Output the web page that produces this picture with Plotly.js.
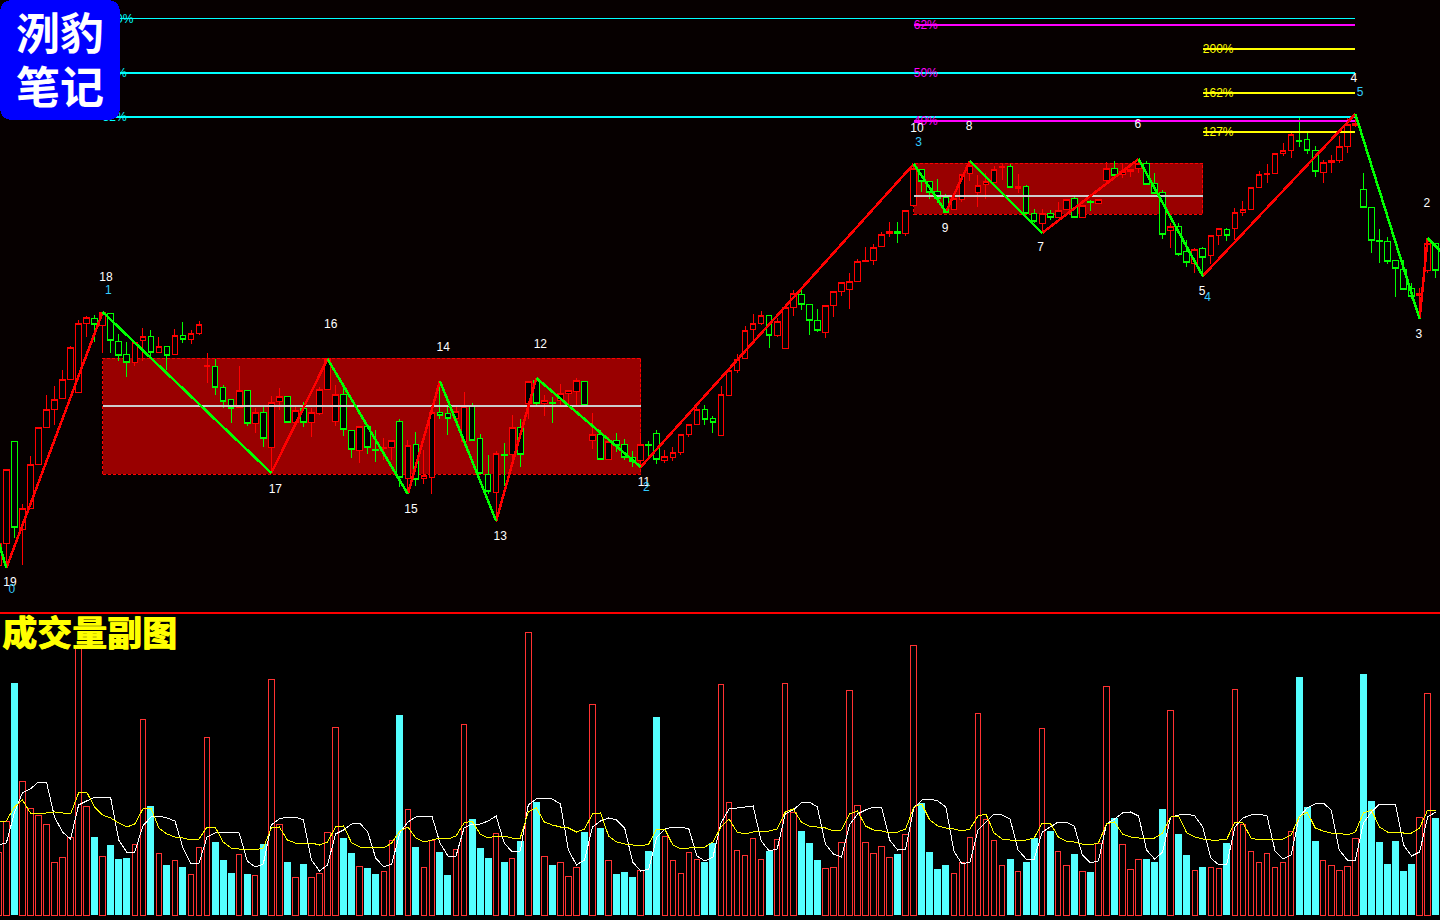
<!DOCTYPE html>
<html><head><meta charset="utf-8">
<script src="https://cdn.plot.ly/plotly-3.0.1.min.js"></script>
<style>
html,body{margin:0;padding:0;background:#000;overflow:hidden}
#chart{width:1440px;height:920px}
svg.main-svg path{shape-rendering:crispEdges !important}
</style></head><body><div id="chart"></div>
<script>
const openP=[47,69,171,83,104,148,185,203,214,233,220,289,294,287,299,271,258,250,272,276,260,266,258,277,273,279,246,246,225,213,205,222,189,200,165,211,216,190,204,190,199,223,191,218,182,162,186,163,164,165,191,134,168,134,135,200,199,194,171,206,174,138,120,158,158,185,209,232,209,210,212,219,221,231,172,178,153,172,168,155,152,168,179,152,155,160,178,188,203,194,177,217,242,254,283,289,297,277,264,305,318,308,292,280,307,321,323,331,351,352,366,379,381,379,407,443,431,421,415,403,413,439,420,428,430,445,446,424,426,399,389,399,395,403,414,395,411,409,432,444,438,441,444,449,429,420,382,386,361,349,364,357,377,383,384,400,403,425,438,439,459,462,472,473,462,440,450,452,466,487,423,405,372,371,352,343,324,317,342,369];
const highP=[69,143,171,108,156,185,217,226,242,266,292,296,297,300,299,278,270,270,284,282,275,266,283,290,282,291,259,253,227,213,246,222,204,205,216,224,216,205,210,204,225,254,227,225,182,186,186,182,174,172,193,172,180,162,200,230,205,205,220,209,178,157,161,169,197,193,231,234,217,215,228,222,234,231,199,182,175,179,173,161,179,171,182,162,165,178,188,207,207,196,226,242,258,286,298,301,297,294,305,322,322,308,303,307,321,330,339,353,365,368,380,390,390,402,447,443,431,433,418,419,438,447,437,439,446,449,448,438,427,403,403,402,410,413,415,407,412,413,450,451,448,443,452,451,439,422,389,389,372,364,365,377,384,384,404,411,425,441,448,459,469,479,494,479,466,452,457,476,494,497,439,405,383,375,352,352,329,324,374,369];
const lowP=[44,45,74,47,104,148,185,187,214,233,220,275,270,259,259,251,235,246,251,254,260,242,258,269,268,277,229,217,204,189,205,186,179,165,139,202,190,185,185,175,197,223,186,176,154,149,158,150,152,152,125,119,126,128,118,193,177,194,171,172,139,118,90,126,152,145,193,207,196,189,205,206,206,207,163,153,153,160,152,145,144,154,148,149,151,157,175,188,187,179,177,217,239,254,270,287,264,275,264,296,302,277,280,274,295,316,303,331,351,347,366,375,369,376,407,420,413,409,400,403,410,431,405,413,430,432,424,419,399,389,380,392,395,403,394,395,401,409,427,437,434,435,439,427,419,373,364,356,345,339,335,348,367,371,372,396,403,425,429,439,456,454,465,458,435,429,439,449,459,485,404,359,349,348,315,322,313,294,339,334];
const closeP=[69,143,85,104,148,185,203,213,233,265,289,295,288,300,272,257,250,270,276,260,266,257,277,273,279,288,247,225,211,204,222,189,200,174,210,216,190,202,190,200,223,254,218,183,163,186,165,162,165,172,135,167,133,137,200,197,194,201,206,172,139,121,159,157,185,158,231,209,212,209,219,222,232,207,178,153,171,167,155,151,168,167,153,156,160,178,188,203,193,190,218,242,253,282,289,297,277,291,305,319,308,292,282,307,321,330,331,351,352,365,378,381,379,402,444,431,420,414,400,414,438,447,427,431,443,446,425,426,399,391,399,395,402,413,395,407,410,413,444,437,441,443,449,428,419,378,386,358,350,363,355,377,384,377,400,403,425,438,439,459,462,478,471,462,441,450,452,466,488,489,405,372,371,351,344,323,316,319,369,342];
const volumes=[63,94,232,134,107,100,91,53,58,78,270,109,78,59,70,56,57,71,196,109,62,50,55,48,41,68,178,73,55,42,61,41,40,71,236,91,53,38,51,38,42,83,188,77,62,49,47,41,44,75,200,106,68,48,75,63,40,66,191,96,67,57,82,53,57,74,283,113,59,50,53,39,48,83,211,87,55,41,43,38,45,64,198,79,55,42,63,56,53,72,231,113,65,60,77,56,64,76,232,103,84,72,55,47,48,73,225,110,73,62,69,58,61,81,270,112,63,46,50,42,53,78,202,96,75,50,56,44,53,77,187,84,64,50,61,44,43,72,229,97,71,46,56,56,53,106,205,81,60,45,48,48,47,72,226,91,64,53,62,48,53,84,238,108,74,55,50,45,49,77,241,114,73,51,74,44,51,98,222,97];
const downVolumeBars=[2,12,14,15,16,19,21,23,27,28,29,31,33,36,38,43,44,46,47,50,52,55,56,59,60,61,63,65,67,69,73,75,77,78,79,81,82,88,89,96,100,101,102,112,115,116,117,118,126,128,129,131,134,136,139,143,144,145,147,148,150,153,162,163,164,170,171,172,173,174,175,176,179];
const maWhite=[70,72,102,122,126,133,133,98,83,76,110,114,118,118,117,75,63,63,89,98,99,97,94,67,51,52,78,82,83,83,82,54,48,51,90,96,98,98,95,55,44,50,81,85,91,92,83,57,48,51,82,93,98,99,99,72,59,59,87,91,91,94,99,72,63,64,110,116,117,116,111,65,50,55,88,94,97,95,87,53,44,46,78,86,88,88,86,59,54,58,92,106,107,108,109,74,64,66,101,105,112,113,108,71,61,58,90,101,105,108,108,75,65,66,107,115,116,114,108,64,51,53,85,93,101,100,96,65,56,56,83,88,93,93,89,60,52,54,91,96,102,103,99,65,56,63,98,100,101,99,88,57,50,51,88,97,100,101,99,64,56,60,98,107,111,112,105,65,55,55,92,103,111,111,111,70,59,63,98,103];
const maYellow=[93,94,108,115,102,101,102,103,102,101,122,123,108,100,97,92,88,91,106,107,87,81,78,77,75,76,88,88,73,67,66,66,65,67,87,88,75,72,72,72,70,73,88,89,72,68,67,68,67,72,84,88,77,73,75,77,76,79,92,94,81,77,79,79,77,77,103,107,93,90,88,87,83,86,101,102,79,73,71,70,69,71,86,86,70,66,67,68,68,73,88,96,83,81,83,84,84,86,103,106,93,89,88,87,84,85,101,104,89,85,84,82,83,86,108,111,95,89,87,86,84,86,99,101,82,76,75,75,75,77,92,92,78,74,73,71,70,72,91,93,81,78,77,77,77,82,98,99,82,78,76,75,75,76,93,92,77,75,76,76,76,80,98,103,87,84,82,82,80,83,102,105,88,83,83,82,82,87,105,105];
const pivotBars=[0,1,13,34,41,51,55,62,67,80,114,118,121,130,142,150,169,177,178,180];
const pivotPrices=[71,44,300,139,253,118,231,91,234,145,448,400,451,379,453,336,498,293,374,358];
const rangeBoxes=[{from:13,to:80,low:138,high:254,mid:206},{from:114,to:150,low:398,high:449,mid:416}];
const cyanLevels=[593.5,539,495], cyanNames=["100%","50%","32%"];
const magentaLevels=[587,539,491], magentaNames=["62%","50%","40%"];
const yellowLevels=[563,519,480], yellowNames=["200%","162%","127%"];
const whiteNames=["19","18","17","16","15","14","13","12","11","10","9","8","7","6","5","4","3","2"];
const whiteBars=[1.46,13.4,34.5,41.4,51.4,55.4,62.5,67.5,80.4,114.4,117.9,120.9,129.8,141.9,149.9,168.8,176.9,177.9];
const whitePrices=[29,334,122,287,102,264,75,267,129,483,383,485,364,487,320,533,277,408];
const cyanNumNames=["0","1","2","3","4","5"];
const cyanNumBars=[1.7,13.7,80.7,114.6,150.6,169.6];
const cyanNumPrices=[22,321,124,469,314,519];
const logoLines=["洌豹","笔记"];
const volumeTitle="成交量副图";

const bars=volumes.map((_,i)=>i);
const isDown=new Set(downVolumeBars);
const hline=(x0,x1,y,color,width)=>({type:'scatter',mode:'lines',x:[x0,x1],y:[y,y],line:{color,width},hoverinfo:'skip',showlegend:false});
const levelText=(x,ys,txt,color)=>({type:'scatter',mode:'text',x:ys.map(()=>x),y:ys.map(v=>v-1),text:txt,textposition:'middle right',textfont:{family:'Liberation Sans',size:12,color},cliponaxis:false,hoverinfo:'skip',showlegend:false});

const zigRed={x:[],y:[]},zigGreen={x:[],y:[]};
for(let k=0;k<pivotBars.length-1;k++){
  const t=pivotPrices[k+1]>pivotPrices[k]?zigRed:zigGreen;
  t.x.push(pivotBars[k],pivotBars[k+1],null);
  t.y.push(pivotPrices[k],pivotPrices[k+1],null);
}

const traces=[
 {type:'candlestick',x:bars,open:openP,high:highP,low:lowP,close:closeP,xaxis:'x',yaxis:'y',
  increasing:{line:{color:'#ff0000',width:1},fillcolor:'#000000'},
  decreasing:{line:{color:'#00ff00',width:1},fillcolor:'#000000'},hoverinfo:'skip',showlegend:false},
 ...rangeBoxes.map(b=>hline(b.from,b.to,b.mid,'#cccccc',2)),
 hline(13,169,cyanLevels[0],'#00ffff',1.4),hline(13,169,cyanLevels[1],'#00ffff',2),hline(13,169,cyanLevels[2],'#00ffff',2),
 hline(114,169,magentaLevels[0],'#ff00ff',2),hline(114,169,magentaLevels[2],'#ff00ff',2),
 ...yellowLevels.map(v=>hline(150,169,v,'#ffff00',2)),
 levelText(13,cyanLevels,cyanNames,'#00ffff'),
 levelText(114,magentaLevels,magentaNames,'#ff00ff'),
 levelText(150,yellowLevels,yellowNames,'#ffff00'),
 {type:'scatter',mode:'lines',x:zigRed.x,y:zigRed.y,line:{color:'#ff0000',width:2.5},hoverinfo:'skip',showlegend:false,connectgaps:false},
 {type:'scatter',mode:'lines',x:zigGreen.x,y:zigGreen.y,line:{color:'#00ff00',width:2.5},hoverinfo:'skip',showlegend:false,connectgaps:false},
 {type:'scatter',mode:'text',x:whiteBars,y:whitePrices,text:whiteNames,textposition:'middle center',textfont:{family:'Liberation Sans',size:12,color:'#ffffff'},cliponaxis:false,hoverinfo:'skip',showlegend:false},
 {type:'scatter',mode:'text',x:cyanNumBars,y:cyanNumPrices,text:cyanNumNames,textposition:'middle center',textfont:{family:'Liberation Sans',size:12,color:'#33ccff'},cliponaxis:false,hoverinfo:'skip',showlegend:false},
 {type:'bar',x:bars.filter(i=>!isDown.has(i)),y:volumes.filter((_,i)=>!isDown.has(i)),xaxis:'x',yaxis:'y2',width:0.68,
  marker:{color:'rgba(0,0,0,0)',line:{color:'#ff3232',width:1}},hoverinfo:'skip',showlegend:false},
 {type:'bar',x:bars.filter(i=>isDown.has(i)),y:volumes.filter((_,i)=>isDown.has(i)),xaxis:'x',yaxis:'y2',width:0.87,
  marker:{color:'#54ffff',line:{width:0}},hoverinfo:'skip',showlegend:false},
 {type:'scatter',mode:'lines',x:bars,y:maWhite,xaxis:'x',yaxis:'y2',line:{color:'#ffffff',width:1},hoverinfo:'skip',showlegend:false},
 {type:'scatter',mode:'lines',x:bars,y:maYellow,xaxis:'x',yaxis:'y2',line:{color:'#ffff00',width:1},hoverinfo:'skip',showlegend:false}
];

const W=1440,H=920,R=13;
const px=x=>x/W, py=y=>1-y/H;
const logoPath=`M${px(R)},${py(0)} L${px(120-R)},${py(0)} Q${px(120)},${py(0)} ${px(120)},${py(R)} L${px(120)},${py(120-R)} Q${px(120)},${py(120)} ${px(120-R)},${py(120)} L${px(R)},${py(120)} Q${px(0)},${py(120)} ${px(0)},${py(120-R)} L${px(0)},${py(R)} Q${px(0)},${py(0)} ${px(R)},${py(0)} Z`;

const layout={
 width:W,height:H,margin:{l:0,r:0,t:0,b:0,pad:0},paper_bgcolor:'#000000',plot_bgcolor:'rgba(0,0,0,0)',
 showlegend:false,hovermode:false,boxgap:0.3,boxgroupgap:0,barmode:'overlay',dragmode:false,
 xaxis:{range:[0.212,179.54],visible:false,fixedrange:true,rangeslider:{visible:false},anchor:'y'},
 yaxis:{domain:[308/920,1],range:[0,612],visible:false,fixedrange:true},
 yaxis2:{domain:[0,306/920],range:[-5,301],visible:false,fixedrange:true,anchor:'x'},
 shapes:[
  {type:'rect',xref:'paper',yref:'paper',x0:0,x1:1,y0:308/920,y1:1,layer:'below',fillcolor:'#060000',line:{width:0}},
  ...rangeBoxes.map(b=>({type:'rect',xref:'x',yref:'y',x0:b.from,x1:b.to,y0:b.low,y1:b.high,layer:'below',fillcolor:'#990000',line:{color:'#ff0000',width:1,dash:'3px,2px'}})),
  {type:'rect',xref:'paper',yref:'paper',x0:0,x1:1,y0:py(614),y1:py(612),layer:'above',fillcolor:'#ff0000',line:{width:0}},
  {type:'path',xref:'paper',yref:'paper',path:logoPath,layer:'above',fillcolor:'#0000ff',line:{width:0}}
 ],
 annotations:[
  {xref:'paper',yref:'paper',x:px(60),y:py(31),text:logoLines[0],showarrow:false,xanchor:'center',yanchor:'middle',font:{family:'Noto Sans CJK SC',size:44,color:'#ffffff',weight:700}},
  {xref:'paper',yref:'paper',x:px(60),y:py(85),text:logoLines[1],showarrow:false,xanchor:'center',yanchor:'middle',font:{family:'Noto Sans CJK SC',size:44,color:'#ffffff',weight:700}},
  {xref:'paper',yref:'paper',x:px(0),y:py(630),text:volumeTitle,showarrow:false,xanchor:'left',yanchor:'middle',font:{family:'Noto Sans CJK SC',size:35,color:'#ffff00',weight:900,shadow:'0.4px 0 0 #ffff00'}}
 ]
};
Plotly.newPlot('chart',traces,layout,{displayModeBar:false,staticPlot:true,responsive:false});
</script></body></html>
